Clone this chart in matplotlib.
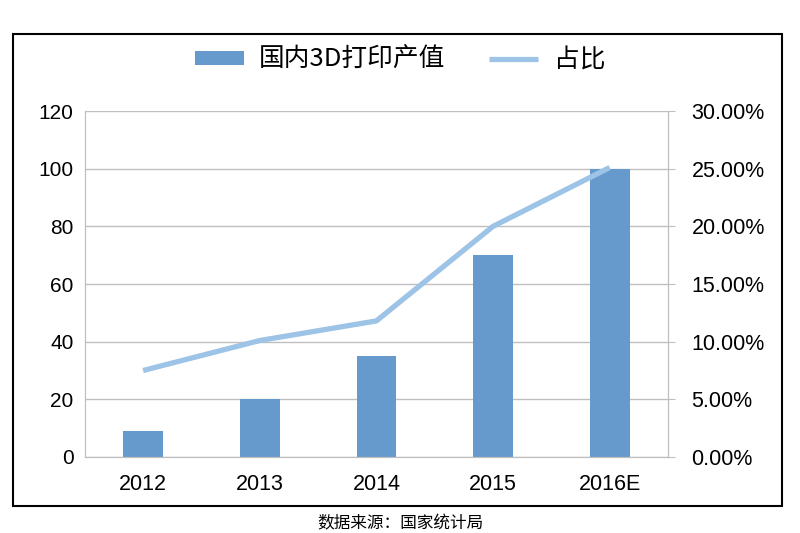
import matplotlib
matplotlib.use('Agg')
import matplotlib.pyplot as plt
import matplotlib.ticker as mticker
from matplotlib.patches import Rectangle

plt.rcParams['font.family'] = ['Liberation Sans', 'Noto Sans CJK SC', 'DejaVu Sans']

# data
years = ['2012', '2013', '2014', '2015', '2016E']
output_value = [9, 20, 35, 70, 100]          # 国内3D打印产值
share = [7.5, 10.1, 11.8, 20.0, 25.1]         # 占比, %
left_ticks = [0, 20, 40, 60, 80, 100, 120]
right_ticks = [0, 5, 10, 15, 20, 25, 30]

bar_color = '#6699CC'
line_color = '#9DC3E6'
grid_color = '#BFBFBF'

fig = plt.figure(figsize=(8, 5.33), dpi=100)
ax1 = fig.add_axes([0.106, 0.1426, 0.729, 0.6491])
ax2 = ax1.twinx()

x = range(len(years))
ax1.bar(x, output_value, width=0.34, color=bar_color, label='国内3D打印产值', zorder=2)
ax2.plot(x, share, color=line_color, lw=3.8, solid_capstyle='butt', label='占比', zorder=3)

ax1.set_xlim(-0.5, len(years) - 0.5)
ax1.set_ylim(0, 120)
ax2.set_ylim(0, 30)
ax1.set_yticks(left_ticks)
ax2.set_yticks(right_ticks)
ax2.yaxis.set_major_formatter(mticker.FuncFormatter(lambda v, pos: '{:.2f}%'.format(v)))
ax1.set_xticks(list(x))
ax1.set_xticklabels(years)

ax1.yaxis.grid(True, color=grid_color, lw=1)
ax1.set_axisbelow(True)
for a in (ax1, ax2):
    a.spines['top'].set_visible(False)
    for s in ('left', 'right', 'bottom'):
        a.spines[s].set_color(grid_color)
ax1.tick_params(axis='x', length=0, pad=12, labelsize=15.5)
ax1.tick_params(axis='y', length=0, pad=8, labelsize=15)
ax2.tick_params(axis='y', length=5, color=grid_color, pad=12, labelsize=15.5)

# legend on top
h1, l1 = ax1.get_legend_handles_labels()
h2, l2 = ax2.get_legend_handles_labels()
fig.legend(h1 + h2, l1 + l2, loc='center', bbox_to_anchor=(0.5, 0.887), ncol=2,
           frameon=False, handlelength=1.9, columnspacing=1.7, handletextpad=0.6,
           handleheight=0.5, prop={'family': ['Noto Sans CJK SC'], 'size': 18.5})

# outer frame
fig.patches.append(Rectangle((13 / 800, 1 - 506 / 533), 769 / 800, 472 / 533,
                             transform=fig.transFigure, fill=False,
                             edgecolor='black', lw=1.5))

fig.text(0.5, 1 - 515 / 533, '数据来源：国家统计局', ha='center', va='top',
         fontsize=12, family=['Noto Sans CJK SC'])

plt.savefig('out.png', dpi=100)
